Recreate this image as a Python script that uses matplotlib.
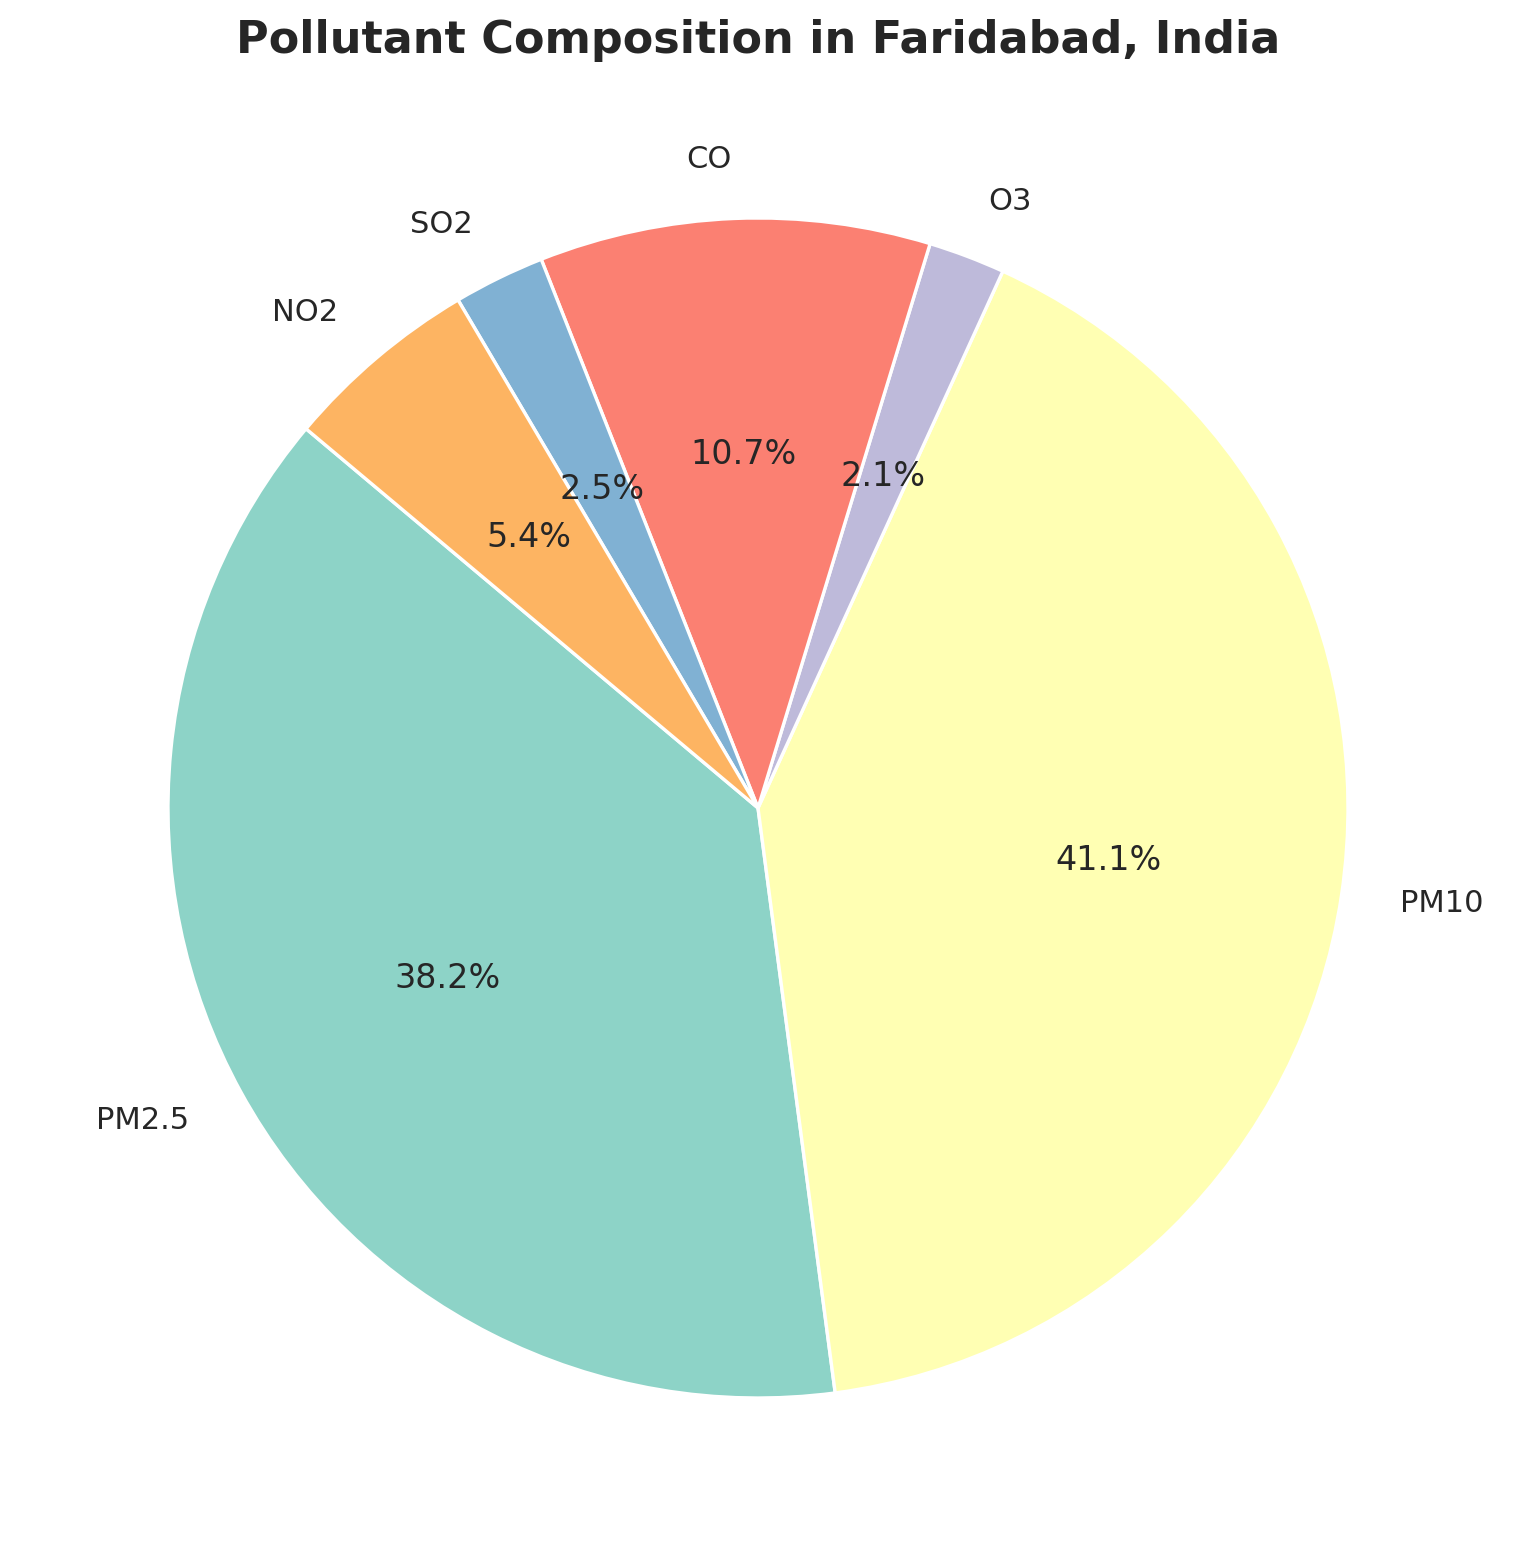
import numpy as np
import matplotlib.pyplot as plt

# Pollutant shares (%)
pollutants = ["PM2.5", "PM10", "O3", "CO", "SO2", "NO2"]
shares = [38.2, 41.1, 2.1, 10.7, 2.5, 5.4]

colors = list(plt.get_cmap("Set3").colors[:6])

fig = plt.figure(figsize=(1517 / 200, 1568 / 200), dpi=200)
ax = fig.add_axes([20.5 / 1517, 22.5 / 1568, 1475 / 1517, 1475 / 1568])

wedges, texts, autotexts = ax.pie(
    shares, labels=pollutants, colors=colors, autopct="%1.1f%%",
    startangle=140, wedgeprops=dict(edgecolor="white", linewidth=1.2),
    textprops=dict(color="#262626", fontsize=11))
for t in autotexts:
    t.set_fontsize(12)
ax.set_aspect("equal")

fig.text(0.5, 1 - 41 / 1568, "Pollutant Composition in Faridabad, India",
         ha="center", va="center", fontsize=16, fontweight="bold", color="#262626")

fig.savefig("out.png", dpi=200)
